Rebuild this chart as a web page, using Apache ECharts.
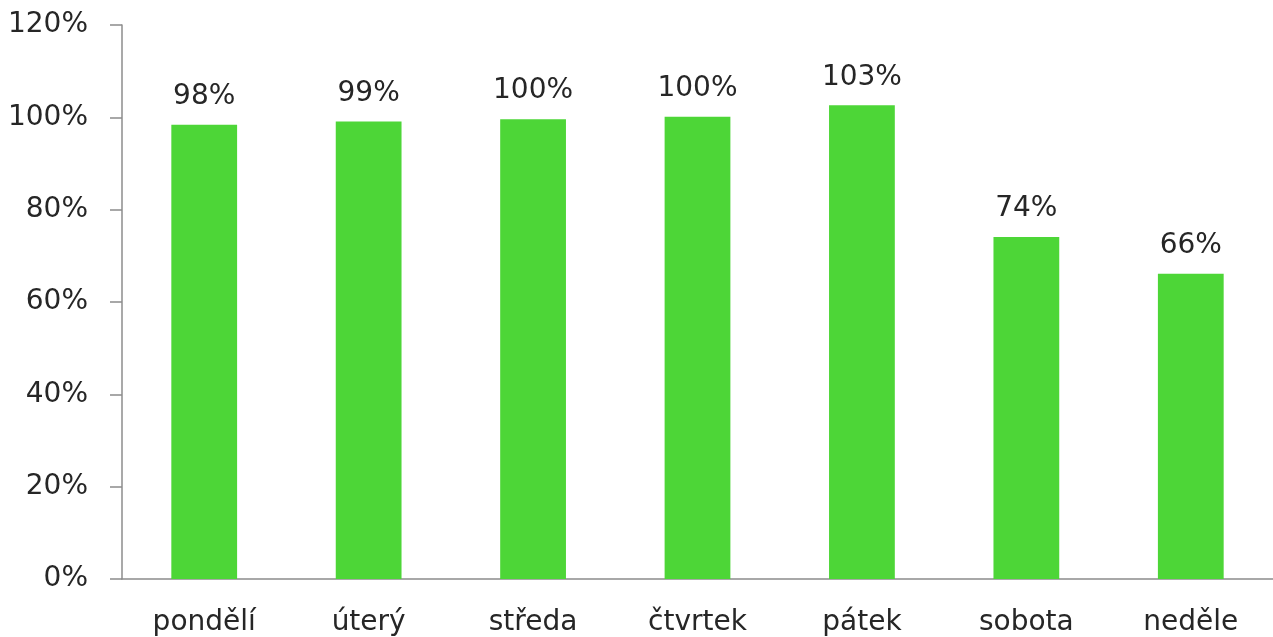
<!DOCTYPE html>
<html>
<head>
<meta charset="utf-8">
<script src="https://cdn.jsdelivr.net/npm/echarts@6/dist/echarts.min.js"></script>
<style>
  html, body { margin: 0; padding: 0; background: #fff; }
  #chart { width: 1273px; height: 637px; }
</style>
</head>
<body>
<div id="chart"></div>
<script>
// dny v týdnu
const days = ["pondělí", "úterý", "středa", "čtvrtek", "pátek", "sobota", "neděle"];
// plnění v %
const rates = [98.4, 99.1, 99.6, 100.1, 102.6, 74.1, 66.1];

const axisColor = "#8c8c8c";
const textColor = "#262626";
const font = "DejaVu Sans";

const chart = echarts.init(document.getElementById("chart"));
chart.setOption({
  animation: false,
  grid: { left: 122, top: 25, bottom: 57, right: -8 },
  xAxis: {
    type: "category",
    data: days,
    axisLine: { lineStyle: { color: axisColor, width: 1.5 } },
    axisTick: { length: 12, lineStyle: { color: axisColor, width: 1.5 } },
    axisLabel: { color: textColor, fontFamily: font, fontSize: 28, margin: 30 },
  },
  yAxis: {
    type: "value",
    min: 0,
    max: 120,
    interval: 20,
    splitLine: { show: false },
    axisLine: { show: true, lineStyle: { color: axisColor, width: 1.5 } },
    axisTick: { show: true, length: 12, lineStyle: { color: axisColor, width: 1.5 } },
    axisLabel: {
      color: textColor,
      fontFamily: font,
      fontSize: 28,
      margin: 34,
      formatter: (v) => v + "%",
    },
  },
  series: [
    {
      type: "bar",
      data: rates,
      barWidth: "40%",
      itemStyle: { color: "#4dd637" },
      label: {
        show: true,
        position: "top",
        distance: 14,
        color: textColor,
        fontFamily: font,
        fontSize: 28,
        formatter: (p) => Math.round(p.value) + "%",
      },
    },
  ],
});
</script>
</body>
</html>
